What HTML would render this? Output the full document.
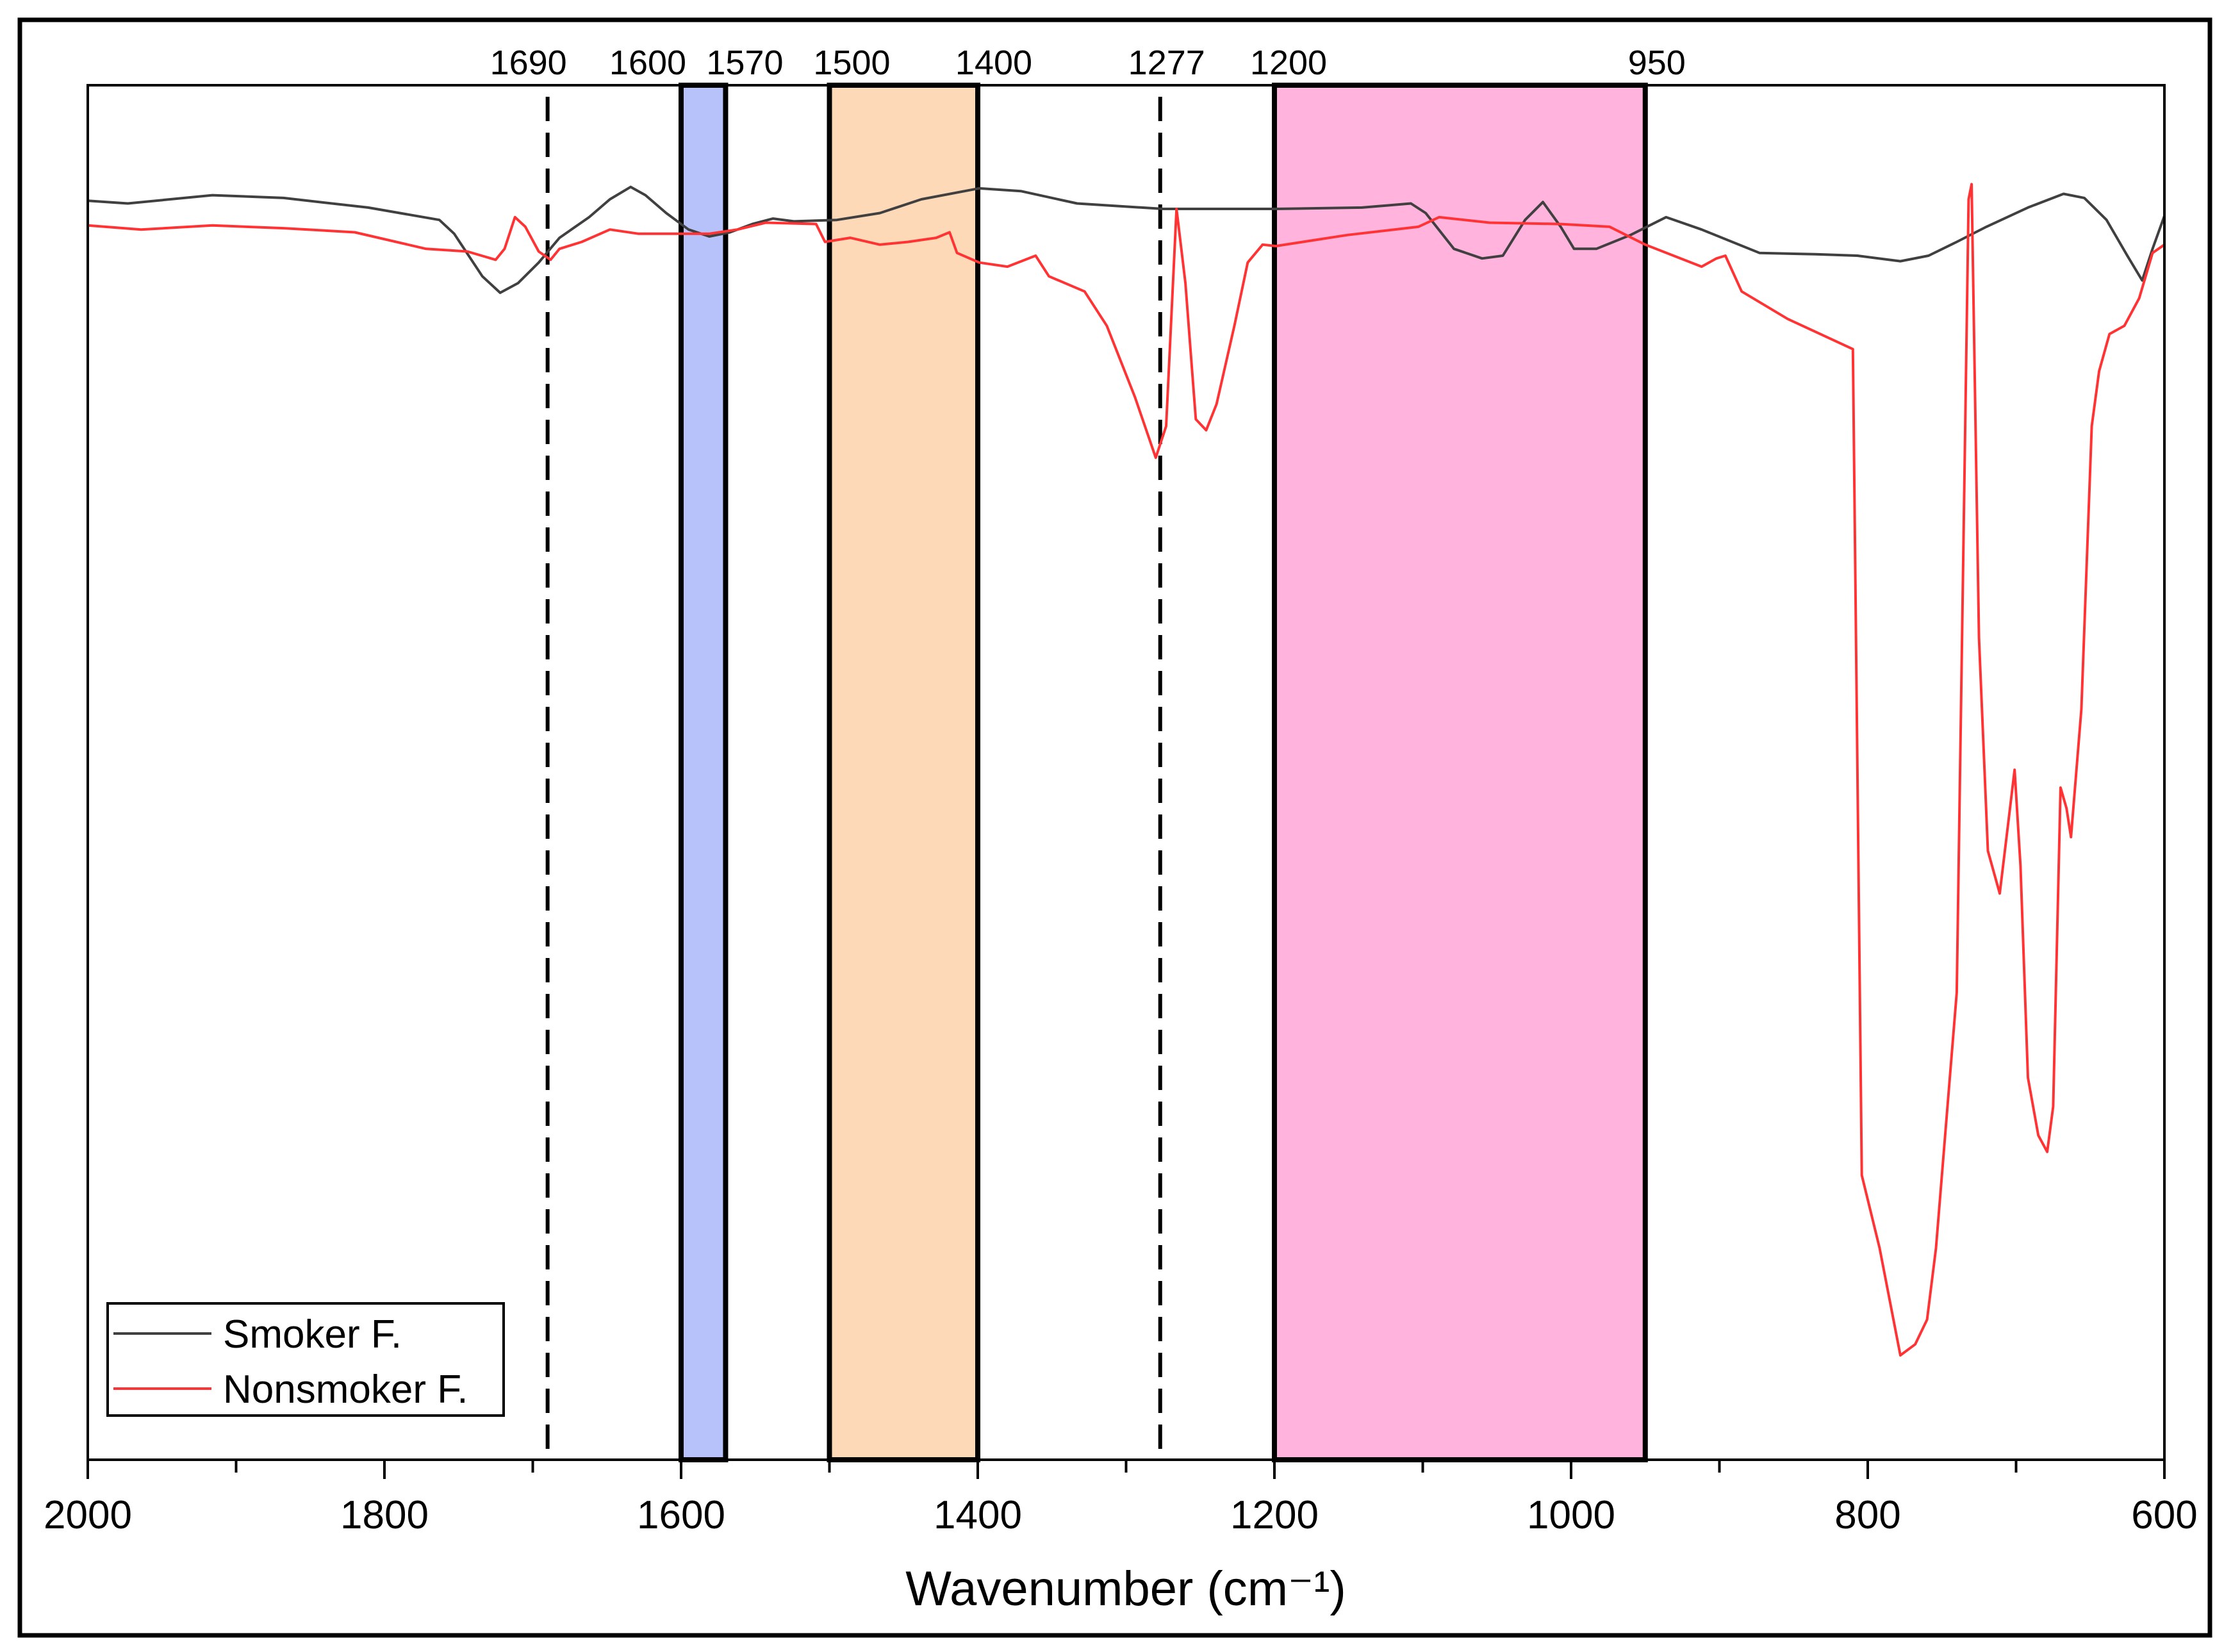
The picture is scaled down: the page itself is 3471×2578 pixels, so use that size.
<!DOCTYPE html>
<html><head><meta charset="utf-8"><style>
html,body{margin:0;padding:0;background:#fff;}
svg{display:block;font-family:"Liberation Sans",Arial,sans-serif;}
</style></head><body>
<svg id="chart" width="3471" height="2578" viewBox="0 0 3471 2578">
<rect x="31" y="31" width="3418" height="2521" fill="#fff" stroke="#000" stroke-width="7"/>
<g id="bands"></g>
<g id="lines"></g>
<rect x="137" y="133" width="3241" height="2145" fill="none" stroke="#000" stroke-width="4"/>
<g id="axis"></g>
<text x="1757" y="2505" font-size="76" text-anchor="middle">Wavenumber (cm⁻¹)</text>
<g>
<rect x="168" y="2034" width="618" height="175" fill="#fff" stroke="#000" stroke-width="4"/>
<line x1="177" y1="2081" x2="330" y2="2081" stroke="#404040" stroke-width="4"/>
<text x="348" y="2103" font-size="62">Smoker F.</text>
<line x1="177" y1="2167" x2="330" y2="2167" stroke="#ff3333" stroke-width="4"/>
<text x="348" y="2189" font-size="62">Nonsmoker F.</text>
</g>
</svg>
<script>
const xTicks = [2000,1800,1600,1400,1200,1000,800,600];
const bandRanges = [[1600,1570,'#b7c2fb'],[1500,1400,'#fdd9b8'],[1200,950,'#ffb3dd']];
const dashedMarks = [1690,1277];
const topLabels = [1690,1600,1570,1500,1400,1277,1200,950];
const topLabelShift = [-30,-52,30,35,25,10,22,18];
const smokerWn = [2000,1973,1916,1868,1811,1763,1753,1734,1722,1710,1696,1682,1662,1648,1634,1624,1610,1595,1581,1567,1552,1538,1524,1495,1466,1438,1399,1371,1333,1275,1199,1141,1108,1098,1079,1060,1046,1031,1019,1007,998,983,960,936,912,873,835,807,778,759,740,720,692,668,654,639,625,615,608,600];
const smokerT = [91.6,91.4,92.0,91.8,91.1,90.2,89.2,86.1,84.9,85.6,87.1,88.9,90.4,91.7,92.6,92.0,90.7,89.5,89.0,89.3,89.9,90.3,90.1,90.2,90.7,91.7,92.5,92.3,91.4,91.0,91.0,91.1,91.4,90.7,88.1,87.4,87.6,90.2,91.5,89.7,88.1,88.1,89.1,90.4,89.5,87.8,87.7,87.6,87.2,87.6,88.6,89.7,91.1,92.1,91.8,90.2,87.6,85.8,88.1,90.5];
const nonWn = [2000,1964,1916,1868,1820,1772,1744,1725,1719,1712,1705,1696,1688,1682,1667,1648,1629,1581,1562,1543,1509,1503,1486,1466,1447,1428,1419,1414,1399,1380,1361,1352,1328,1313,1294,1280,1273,1266,1260,1253,1246,1239,1227,1218,1208,1199,1151,1103,1089,1055,1007,974,950,912,902,896,885,854,816,810,804,792,778,768,760,754,740,732,730,725,719,711,703,701,697,692,685,679,675,670,666,663,656,649,644,637,627,617,608,600];
const nonT = [89.8,89.5,89.8,89.6,89.3,88.1,87.9,87.3,88.1,90.4,89.7,87.9,87.3,88.1,88.6,89.5,89.2,89.2,89.5,90.0,89.9,88.6,88.9,88.4,88.6,88.9,89.3,87.8,87.1,86.8,87.6,86.1,85.0,82.5,77.3,72.9,75.2,91.0,85.6,75.7,74.9,76.8,82.5,87.1,88.4,88.3,89.1,89.7,90.4,90.0,89.9,89.7,88.4,86.8,87.4,87.6,85.0,83.0,81.1,80.8,20.7,15.4,7.6,8.4,10.2,15.4,34.0,91.7,92.8,59.8,44.3,41.2,48.4,50.2,43.2,27.8,23.6,22.4,25.7,48.9,47.4,45.3,54.6,75.2,79.2,81.9,82.5,84.5,87.8,88.4];

const L=137,R=3378,T=133,B=2278;
const sx = w => L + (2000-w)/(2000-600)*(R-L);
const sy = v => B - v/100*(B-T);
const NS='http://www.w3.org/2000/svg';
function mk(tag,parent,attrs){const e=document.createElementNS(NS,tag);for(const k in attrs)e.setAttribute(k,attrs[k]);parent.appendChild(e);return e;}
const bands=document.getElementById('bands');
bandRanges.forEach(b=>{
  const x1=sx(b[0]),x2=sx(b[1]);
  const r=mk('rect',bands,{x:x1,y:T,width:x2-x1,height:B-T,fill:b[2],stroke:'#000','stroke-width':8});
  
  
});
dashedMarks.forEach(w=>{
  const l=mk('line',bands,{x1:sx(w),x2:sx(w),y1:T+18,y2:B,stroke:'#000','stroke-width':6,'stroke-dasharray':'38 18'});
  
  
});
const lines=document.getElementById('lines');
function path(wn,vals,color,name){
  const d=wn.map((w,i)=>(i?'L':'M')+sx(w).toFixed(1)+' '+sy(vals[i]).toFixed(1)).join(' ');
  const p=mk('path',lines,{d:d,fill:'none',stroke:color,'stroke-width':4,'stroke-linejoin':'round'});
  
  
}
path(smokerWn,smokerT,'#404040','smoker-line');
path(nonWn,nonT,'#ff3333','nonsmoker-line');
const axis=document.getElementById('axis');
for(let w=2000;w>=600;w-=100){
  const major=w%200===0;
  const t=mk('line',axis,{x1:sx(w),x2:sx(w),y1:B,y2:B+(major?30:20),stroke:'#000','stroke-width':4});
  
  
}
xTicks.forEach(w=>{
  const t=mk('text',axis,{x:sx(w),y:2385,'font-size':62,'text-anchor':'middle'});
  t.textContent=w;
  
  
});
topLabels.forEach((w,i)=>{
  const t=mk('text',axis,{x:sx(w)+topLabelShift[i],y:116,'font-size':54,'text-anchor':'middle'});
  t.textContent=w;
  
  
});
</script>
</body></html>
